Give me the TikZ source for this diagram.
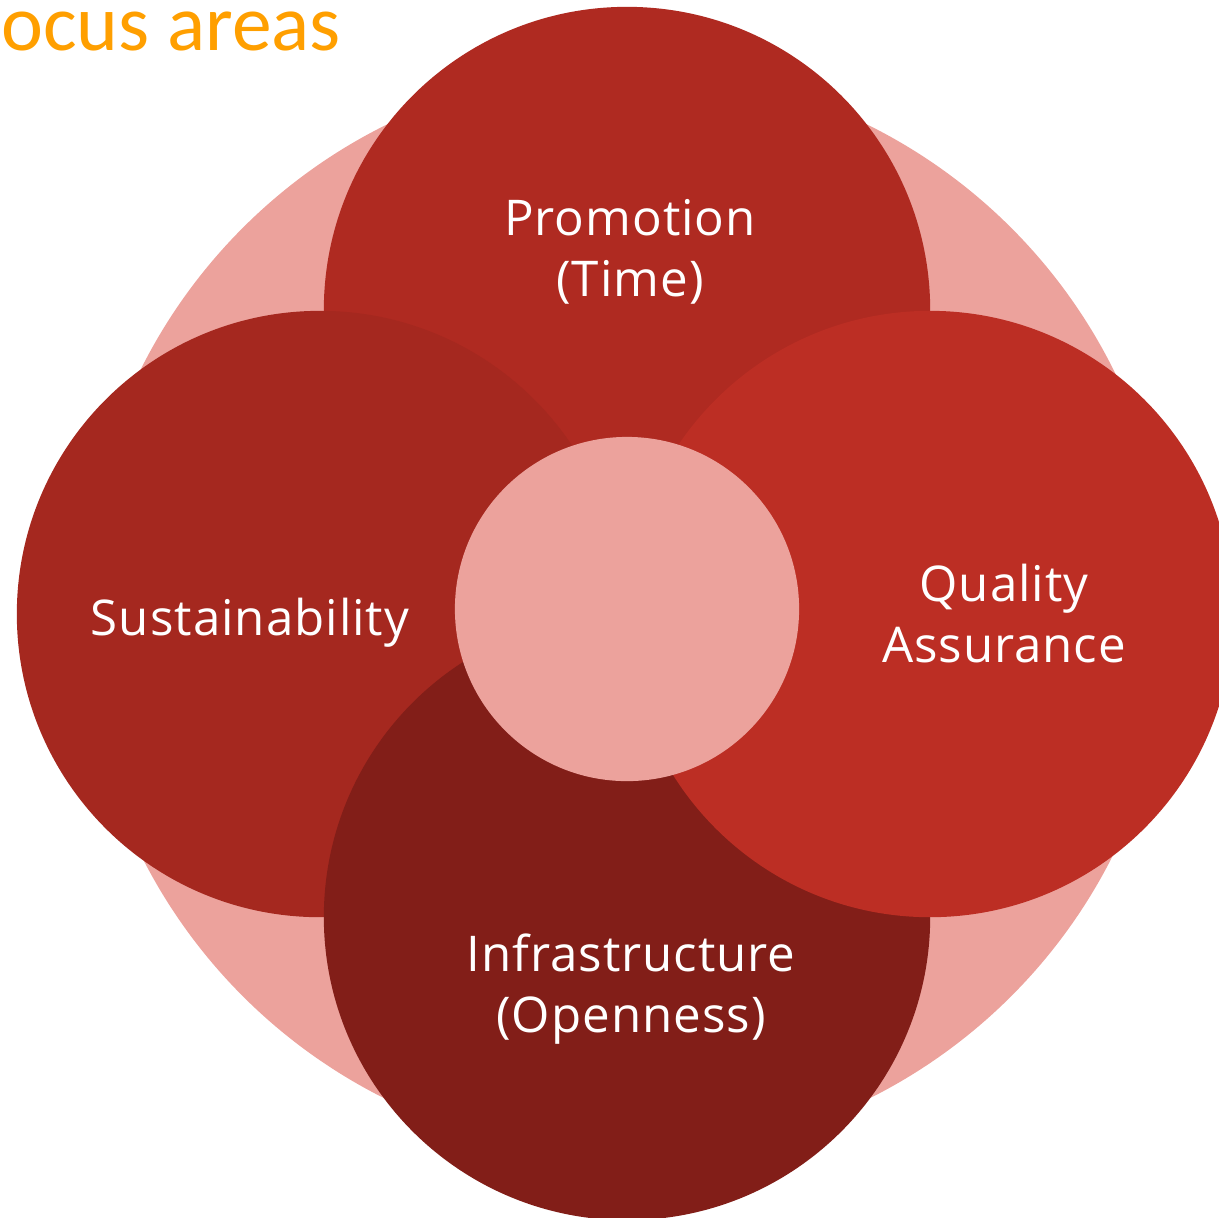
\documentclass[tikz,border=0pt]{standalone}
\usepackage{fontspec}
\setmainfont{Open Sans}[LetterSpace=2]
\newfontfamily\titlefont{Carlito}
\definecolor{pinkbg}{HTML}{ECA29C}
\definecolor{topred}{HTML}{AF2A21}
\definecolor{leftred}{HTML}{A5281F}
\definecolor{rightred}{HTML}{BC2E24}
\definecolor{botred}{HTML}{821E18}
\definecolor{titleorange}{HTML}{FF9F00}
\begin{document}
\begin{tikzpicture}[x=0.01cm,y=-0.01cm,
  petal/.style={circle, inner sep=0pt, minimum size=6.06cm, draw=none},
  lbl/.style={text=white, align=center, anchor=base, inner sep=0pt,
    font=\fontsize{14}{17.1}\selectfont}]
\useasboundingbox (0,0) rectangle (1219,1217);
\node[circle, inner sep=0pt, minimum size=10.86cm, fill=pinkbg] (bg) at (627,612) {};
\node[petal, fill=topred] (top) at (627,310) {};
\node[petal, fill=leftred] (left) at (320,614) {};
\node[petal, fill=botred] (bottom) at (627,917) {};
\node[petal, fill=rightred] (right) at (930,614) {};
\node[circle, inner sep=0pt, minimum size=3.44cm, fill=pinkbg] (hub) at (627,609) {};
\node[lbl] (tlbl) at (630,296) {Promotion\\(Time)};
\node[lbl] (llbl) at (250,635) {Sustainability};
\node[lbl] (rlbl) at (1004,662) {Quality\\Assurance};
\node[lbl] (blbl) at (631,1032) {Infrastructure\\(Openness)};
\node[anchor=base west, inner sep=0pt, text=titleorange,
  font=\titlefont\fontsize{22.6}{26}\selectfont] (title) at (-35,50) {Focus areas};
\end{tikzpicture}
\end{document}
